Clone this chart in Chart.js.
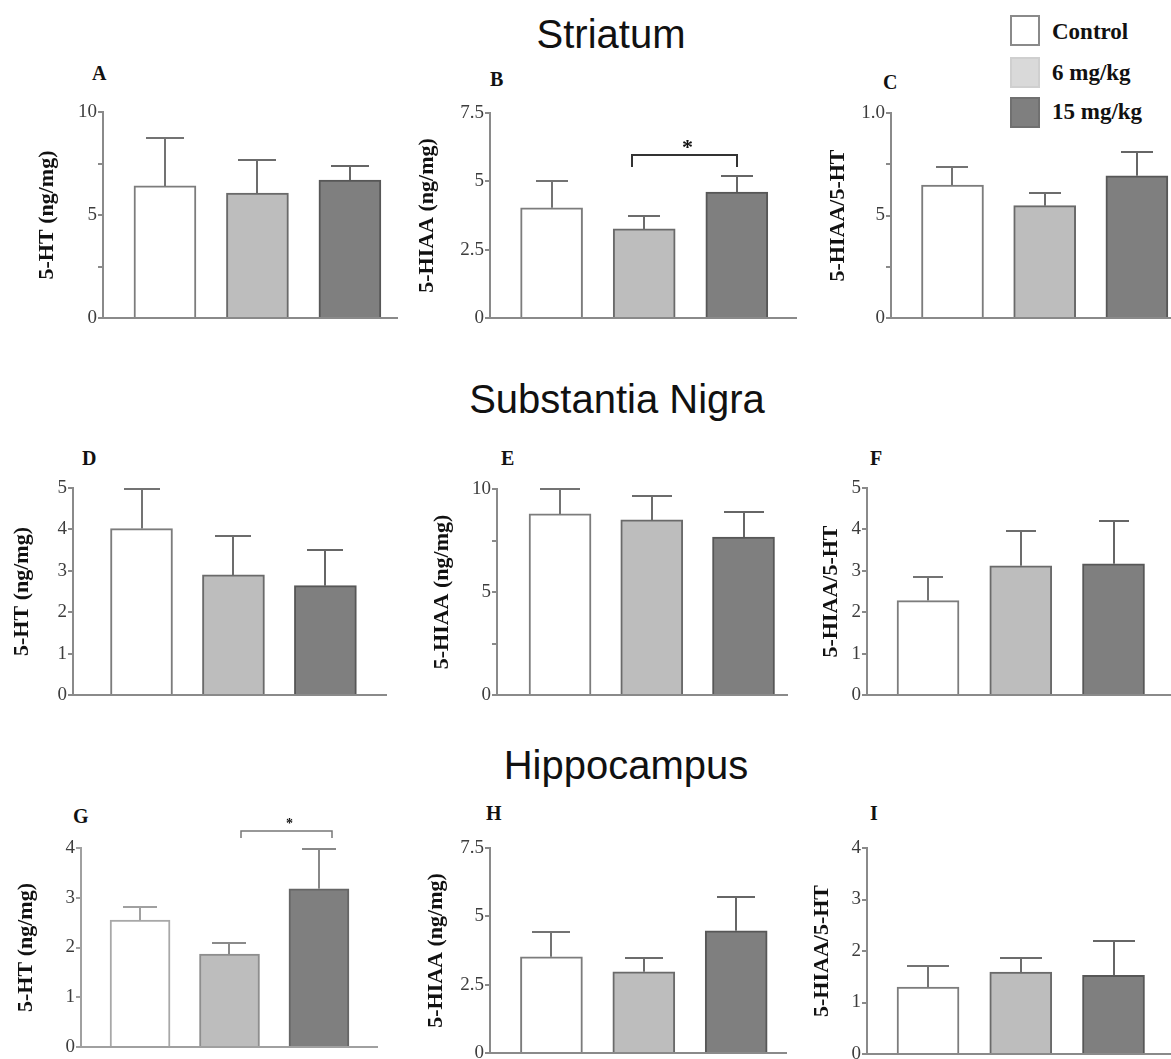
<!DOCTYPE html>
<html>
<head>
<meta charset="utf-8">
<title>Monoamine levels by brain region</title>
<script src="https://cdn.jsdelivr.net/npm/chart.js@4/dist/chart.umd.min.js"></script>
<style>
  html, body { margin: 0; padding: 0; background: #fff; }
  body { position: relative; width: 1171px; height: 1059px; overflow: hidden; font-family: "Liberation Serif", "Times New Roman", serif; }
  .region { position: absolute; font-family: "Liberation Sans", Arial, sans-serif; font-size: 40px; line-height: 1; color: #111; white-space: nowrap; transform: translateX(-50%); }
  .letter { position: absolute; font-weight: bold; font-size: 20px; line-height: 1; color: #111; }
  .panel { position: absolute; }
  .panel canvas { display: block; }
  .key-box { position: absolute; box-sizing: border-box; width: 30px; height: 31px; border: 2px solid #888; }
  .key-text { position: absolute; font-weight: bold; font-size: 23px; line-height: 1; color: #111; white-space: nowrap; }
</style>
</head>
<body>
<script>
// Treatment groups (one bar each per panel)
const groups = ['Control', '6 mg/kg', '15 mg/kg'];

// Striatum: means and SEM
const striatumHT = [6.41, 6.07, 6.70];
const striatumHTSem = [2.33, 1.60, 0.68];
const striatumHIAA = [4.03, 3.26, 4.61];
const striatumHIAASem = [0.99, 0.48, 0.59];
const striatumRatio = [0.649, 0.548, 0.694];
const striatumRatioSem = [0.088, 0.062, 0.116];

// Substantia nigra: means and SEM
const nigraHT = [4.02, 2.90, 2.64];
const nigraHTSem = [0.96, 0.93, 0.87];
const nigraHIAA = [8.79, 8.50, 7.67];
const nigraHIAASem = [1.21, 1.16, 1.21];
const nigraRatio = [2.28, 3.12, 3.17];
const nigraRatioSem = [0.58, 0.83, 1.04];

// Hippocampus: means and SEM
const hippoHT = [2.55, 1.87, 3.18];
const hippoHTSem = [0.26, 0.22, 0.80];
const hippoHIAA = [3.52, 2.97, 4.47];
const hippoHIAASem = [0.91, 0.51, 1.24];
const hippoRatio = [1.30, 1.59, 1.53];
const hippoRatioSem = [0.41, 0.27, 0.66];

// Y tick labels (blank = unlabeled tick)
const ticksTen = ['0', '', '5', '', '10'];
const ticksSevenHalf = ['0', '2.5', '5', '7.5'];
const ticksUnit = ['0', '', '5', '', '1.0'];
const ticksFive = ['0', '1', '2', '3', '4', '5'];
const ticksFour = ['0', '1', '2', '3', '4'];

// Significance brackets: group indices and bracket level (axis units)
const sigStriatumHIAA = { from: 1, to: 2, level: 5.97, leg: 5.53, label: '*' };
const sigHippoHT = { from: 1, to: 2, level: 4.34, leg: 4.20, label: '*' };

// Styling
const fills = ['#ffffff', '#bdbdbd', '#7f7f7f'];
const outlines = ['#7c7c7c', '#6a6a6a', '#575757'];
const softOutlines = ['#a8a8a8', '#8e8e8e', '#666666'];
const axisGrey = '#8a8a8a';

// Layout for each panel: chart-area box in page pixels
const panels = [
  { letter: 'A', at: [92, 63],  values: striatumHT,   sem: striatumHTSem,   title: '5-HT (ng/mg)',   max: 10,  step: 2.5,  ticks: ticksTen,       box: { l: 103, t: 112, r: 398, b: 318 }, xr: [0.33, 3.52],  gap: 56, cap: 38 },
  { letter: 'B', at: [490, 69], values: striatumHIAA, sem: striatumHIAASem, title: '5-HIAA (ng/mg)', max: 7.5, step: 2.5,  ticks: ticksSevenHalf, box: { l: 490, t: 113, r: 797, b: 318 }, xr: [0.335, 3.65], gap: 63, cap: 32, sig: sigStriatumHIAA, sigStyle: { dl: -12, dr: 0, color: '#333', width: 2, font: 'bold 22px "Liberation Serif"', lift: 1 } },
  { letter: 'C', at: [883, 72], values: striatumRatio, sem: striatumRatioSem, title: '5-HIAA/5-HT',  max: 1,   step: 0.25, ticks: ticksUnit,      box: { l: 891, t: 113, r: 1171, b: 318 }, xr: [0.333, 3.37], gap: 53, cap: 32 },
  { letter: 'D', at: [82, 448], values: nigraHT,      sem: nigraHTSem,      title: '5-HT (ng/mg)',   max: 5,   step: 1,    ticks: ticksFive,      box: { l: 73, t: 488, r: 387, b: 695 },  xr: [0.255, 3.67], gap: 51, cap: 36 },
  { letter: 'E', at: [501, 448], values: nigraHIAA,   sem: nigraHIAASem,    title: '5-HIAA (ng/mg)', max: 10,  step: 2.5,  ticks: ticksTen,       box: { l: 497, t: 489, r: 788, b: 695 }, xr: [0.313, 3.485], gap: 55, cap: 40 },
  { letter: 'F', at: [870, 448], values: nigraRatio,  sem: nigraRatioSem,   title: '5-HIAA/5-HT',    max: 5,   step: 1,    ticks: ticksFive,      box: { l: 867, t: 488, r: 1171, b: 695 }, xr: [0.342, 3.62], gap: 36, cap: 30 },
  { letter: 'G', at: [73, 806], values: hippoHT,      sem: hippoHTSem,      title: '5-HT (ng/mg)',   max: 4,   step: 1,    ticks: ticksFour,      box: { l: 81, t: 848, r: 378, b: 1047 }, xr: [0.34, 3.66],  gap: 55, cap: 34, soft: true, barW: 60, padTop: 40, sig: sigHippoHT, sigStyle: { dl: 12, dr: 13, color: '#777', width: 1.5, font: 'bold 14px "Liberation Serif"', lift: 3 } },
  { letter: 'H', at: [486, 803], values: hippoHIAA,   sem: hippoHIAASem,    title: '5-HIAA (ng/mg)', max: 7.5, step: 2.5,  ticks: ticksSevenHalf, box: { l: 490, t: 848, r: 787, b: 1053 }, xr: [0.335, 3.55], gap: 54, cap: 38 },
  { letter: 'I', at: [870, 803], values: hippoRatio,  sem: hippoRatioSem,   title: '5-HIAA/5-HT',    max: 4,   step: 1,    ticks: ticksFour,      box: { l: 867, t: 848, r: 1171, b: 1054 }, xr: [0.342, 3.62], gap: 45, cap: 42 }
];

// Region headings (centre x, top y)
const regions = [
  { name: 'Striatum', x: 611, y: 14 },
  { name: 'Substantia Nigra', x: 617, y: 379 },
  { name: 'Hippocampus', x: 626, y: 745 }
];

// Mean + SEM whiskers drawn on top of each bar
const errorBars = {
  id: 'errorBars',
  afterDatasetsDraw(chart, args, opts) {
    const { ctx } = chart;
    const y = chart.scales.y;
    const meta = chart.getDatasetMeta(0);
    ctx.save();
    ctx.lineWidth = 2;
    ctx.lineCap = 'butt';
    meta.data.forEach((bar, i) => {
      const top = Math.round(y.getPixelForValue(opts.values[i] + opts.sem[i]));
      const x = Math.round(bar.x);
      const half = opts.cap / 2;
      ctx.strokeStyle = opts.colors[i];
      ctx.beginPath();
      ctx.moveTo(x, bar.y);
      ctx.lineTo(x, top);
      ctx.moveTo(x - half, top);
      ctx.lineTo(x + half, top);
      ctx.stroke();
    });
    ctx.restore();
  }
};

// Significance bracket between two groups
const sigBracket = {
  id: 'sigBracket',
  afterDraw(chart, args, opts) {
    if (!opts.sig) return;
    const { ctx } = chart;
    const y = chart.scales.y;
    const meta = chart.getDatasetMeta(0);
    const s = opts.sig, st = opts.style;
    const x1 = Math.round(meta.data[s.from].x) + st.dl;
    const x2 = Math.round(meta.data[s.to].x) + st.dr;
    const yTop = Math.round(y.getPixelForValue(s.level));
    const yLeg = Math.round(y.getPixelForValue(s.leg));
    ctx.save();
    ctx.strokeStyle = st.color;
    ctx.lineWidth = st.width;
    ctx.beginPath();
    ctx.moveTo(x1, yLeg);
    ctx.lineTo(x1, yTop);
    ctx.lineTo(x2, yTop);
    ctx.lineTo(x2, yLeg);
    ctx.stroke();
    ctx.fillStyle = '#111';
    ctx.font = st.font;
    ctx.textAlign = 'center';
    ctx.textBaseline = 'alphabetic';
    ctx.fillText(s.label, (x1 + x2) / 2 + 3, yTop - st.lift);
    ctx.restore();
  }
};

function addText(cls, text, left, top) {
  const d = document.createElement('div');
  d.className = cls;
  d.textContent = text;
  d.style.left = left + 'px';
  d.style.top = top + 'px';
  document.body.appendChild(d);
}

regions.forEach(r => addText('region', r.name, r.x, r.y));

// Legend
const keyFills = ['#ffffff', '#d9d9d9', '#7f7f7f'];
const keyBorders = ['#8a8a8a', '#cfcfcf', '#707070'];
const keyTops = [15, 57, 97];
const keyTextTops = [20, 61, 100];
groups.forEach((g, i) => {
  const b = document.createElement('div');
  b.className = 'key-box';
  b.style.left = '1010px';
  b.style.top = keyTops[i] + 'px';
  b.style.background = keyFills[i];
  b.style.borderColor = keyBorders[i];
  document.body.appendChild(b);
  addText('key-text', g, 1052, keyTextTops[i]);
});

function makePanel(p) {
  addText('letter', p.letter, p.at[0], p.at[1]);
  const titleSize = 22;
  const half = titleSize * 1.2 / 2;
  const W = Math.round(p.gap + half);
  const padTop = p.padTop || 14;
  const padBottom = 14;
  const left = p.box.l - W;
  const top = p.box.t - padTop;
  const width = p.box.r - left;
  const height = p.box.b - top + padBottom;

  const wrap = document.createElement('div');
  wrap.className = 'panel';
  wrap.style.left = left + 'px';
  wrap.style.top = top + 'px';
  wrap.style.width = width + 'px';
  wrap.style.height = height + 'px';
  const canvas = document.createElement('canvas');
  canvas.width = width;
  canvas.height = height;
  wrap.appendChild(canvas);
  document.body.appendChild(wrap);

  const lineCol = p.soft ? '#a0a0a0' : axisGrey;
  const borders = p.soft ? softOutlines : outlines;
  const whiskers = p.soft ? ['#a0a0a0', '#8a8a8a', '#888888'] : ['#737373', '#6c6c6c', '#666666'];

  new Chart(canvas, {
    type: 'bar',
    data: {
      datasets: [{
        label: 'mean',
        data: p.values.map((v, i) => ({ x: i + 1, y: v })),
        backgroundColor: fills,
        borderColor: borders,
        borderWidth: 2,
        borderSkipped: 'start',
        barThickness: p.barW || 62
      }]
    },
    options: {
      responsive: false,
      animation: false,
      events: [],
      layout: { padding: { top: padTop, bottom: padBottom, left: 0, right: 0 } },
      scales: {
        x: {
          type: 'linear',
          offset: false,
          min: p.xr[0],
          max: p.xr[1],
          ticks: { display: false },
          grid: { display: false, offset: false },
          border: { display: true, color: lineCol, width: 2 },
          afterFit(scale) { scale.height = 0; }
        },
        y: {
          min: 0,
          max: p.max,
          ticks: {
            stepSize: p.step,
            autoSkip: false,
            padding: 1,
            color: '#3d3d3d',
            font: { family: '"Liberation Serif", "Times New Roman", serif', size: 19 },
            callback: (v, i) => p.ticks[i]
          },
          grid: { drawOnChartArea: false, drawTicks: true, tickLength: 5, color: lineCol, lineWidth: 2 },
          border: { display: true, color: lineCol, width: 2 },
          title: {
            display: true,
            text: p.title,
            color: '#111',
            padding: 0,
            font: { family: '"Liberation Serif", "Times New Roman", serif', size: titleSize, weight: 'bold' }
          },
          afterFit(scale) { scale.width = W; }
        }
      },
      plugins: {
        legend: { display: false },
        tooltip: { enabled: false },
        errorBars: { values: p.values, sem: p.sem, cap: p.cap, colors: whiskers },
        sigBracket: { sig: p.sig, style: p.sigStyle }
      }
    },
    plugins: [errorBars, sigBracket]
  });
}

panels.forEach(makePanel);
</script>
</body>
</html>
